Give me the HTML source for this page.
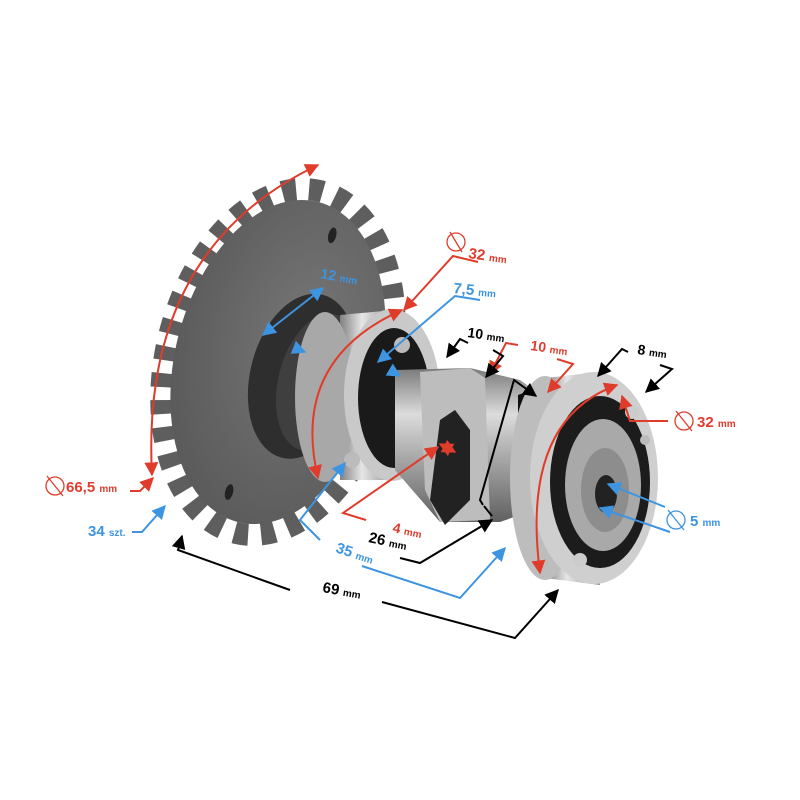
<!DOCTYPE html>
<html><head><meta charset="utf-8"><style>
html,body{margin:0;padding:0;background:#fff;}
svg{display:block;font-family:"Liberation Sans",Arial,sans-serif;font-weight:bold;}
</style></head><body>
<svg width="800" height="800" viewBox="0 0 800 800" xmlns="http://www.w3.org/2000/svg">
<defs>
<marker id="ar" viewBox="0 0 10 10" refX="9" refY="5" markerWidth="7" markerHeight="7" orient="auto-start-reverse"><path d="M0,0L10,5L0,10z" fill="#e03c2c"/></marker>
<marker id="ab" viewBox="0 0 10 10" refX="9" refY="5" markerWidth="7" markerHeight="7" orient="auto-start-reverse"><path d="M0,0L10,5L0,10z" fill="#3d94e0"/></marker>
<marker id="ak" viewBox="0 0 10 10" refX="9" refY="5" markerWidth="7" markerHeight="7" orient="auto-start-reverse"><path d="M0,0L10,5L0,10z" fill="#000"/></marker>
<linearGradient id="met" x1="0" y1="0" x2="0" y2="1"><stop offset="0" stop-color="#7a7a7a"/><stop offset="0.3" stop-color="#dcdcdc"/><stop offset="0.6" stop-color="#a5a5a5"/><stop offset="1" stop-color="#606060"/></linearGradient>
<linearGradient id="met2" x1="0" y1="0" x2="1" y2="0"><stop offset="0" stop-color="#808080"/><stop offset="0.4" stop-color="#e6e6e6"/><stop offset="1" stop-color="#8a8a8a"/></linearGradient>
<radialGradient id="spr" cx="0.6" cy="0.4" r="0.7"><stop offset="0" stop-color="#767676"/><stop offset="1" stop-color="#585858"/></radialGradient>
</defs>

<!-- sprocket -->
<g transform="rotate(14 278 362)">
<ellipse cx="278" cy="362" rx="112" ry="176" fill="none" stroke="#5e5e5e" stroke-width="22" stroke-dasharray="14 13"/>
<ellipse cx="278" cy="362" rx="103" ry="165" fill="url(#spr)"/>
<ellipse cx="305" cy="370" rx="52" ry="84" fill="#2e2e2e"/>
<ellipse cx="322" cy="372" rx="40" ry="70" fill="#3f3f3f"/>
<ellipse cx="300" cy="226" rx="4" ry="8" fill="#222"/>
<ellipse cx="262" cy="500" rx="4" ry="8" fill="#222"/>
</g>

<!-- left bearing -->
<path d="M340,315 L395,310 L395,480 L340,480 Z" fill="url(#met2)"/>
<ellipse cx="325" cy="397" rx="30" ry="85" fill="#a8a8a8"/>
<ellipse cx="392" cy="395" rx="48" ry="86" fill="#c9c9c9"/>
<ellipse cx="394" cy="398" rx="36" ry="70" fill="#1a1a1a"/>
<circle cx="402" cy="345" r="8" fill="#bbb"/><circle cx="352" cy="460" r="8" fill="#bbb"/>

<!-- shaft / cam -->
<path d="M395,370 L470,368 L520,380 L548,400 L548,505 L500,522 L440,522 L395,470 Z" fill="url(#met)"/>
<path d="M420,372 L470,368 L485,378 L490,520 L440,522 L425,490 Z" fill="#bdbdbd"/>
<path d="M440,420 L455,410 L470,430 L470,500 L445,525 L430,500 Z" fill="#222"/>
<path d="M518,395 L545,385 L560,395 L560,520 L535,525 L518,510 Z" fill="#111"/>

<!-- right bearing -->
<path d="M545,378 L600,372 L600,585 L545,578 Z" fill="url(#met2)"/>
<ellipse cx="545" cy="478" rx="35" ry="102" fill="#bdbdbd"/>
<ellipse cx="594" cy="478" rx="64" ry="106" fill="#cfcfcf"/>
<ellipse cx="600" cy="482" rx="50" ry="86" fill="#1c1c1c"/>
<ellipse cx="603" cy="485" rx="38" ry="66" fill="#a9a9a9"/>
<ellipse cx="605" cy="490" rx="24" ry="42" fill="#8d8d8d"/>
<ellipse cx="606" cy="494" rx="11" ry="19" fill="#222"/>
<circle cx="632" cy="412" r="7" fill="#ccc"/><circle cx="580" cy="560" r="7" fill="#ccc"/><circle cx="645" cy="440" r="5" fill="#bbb"/>

<!-- RED annotations -->
<g stroke="#e03c2c" stroke-width="2" fill="none">
<path d="M152,475 Q140,250 318,165" marker-start="url(#ar)" marker-end="url(#ar)"/>
<path d="M130,491 L140,491 L153,478" marker-end="url(#ar)"/>
<path d="M318,478 Q290,360 402,310" marker-start="url(#ar)" marker-end="url(#ar)"/>
<path d="M478,262 L453,256 L404,310" marker-end="url(#ar)"/>
<path d="M540,573 Q520,420 617,385" marker-start="url(#ar)" marker-end="url(#ar)"/>
<path d="M668,421 L630,421 L622,396" marker-end="url(#ar)"/>
<path d="M366,520 L343,513 L438,447" marker-end="url(#ar)"/>
<path d="M440,444 L455,452" marker-start="url(#ar)" marker-end="url(#ar)"/>
<path d="M518,345 L506,343 L490,374" marker-end="url(#ar)"/>
<path d="M557,359 L573,364 L548,392" marker-end="url(#ar)"/>
</g>
<g stroke="#e03c2c" stroke-width="1.3" fill="none">
<circle cx="456" cy="242" r="9"/><path d="M450,232 L462,252"/>
<circle cx="55" cy="486" r="9"/><path d="M47,476 L63,496"/>
<circle cx="684" cy="421" r="9"/><path d="M676,411 L692,431"/>
</g>
<g fill="#e03c2c">
<text x="468" y="258" font-size="15" transform="rotate(8 468 258)">32 <tspan font-size="10">mm</tspan></text>
<text x="66" y="492" font-size="15">66,5 <tspan font-size="10">mm</tspan></text>
<text x="697" y="427" font-size="15">32 <tspan font-size="10">mm</tspan></text>
<text x="392" y="532" font-size="14" transform="rotate(12 392 532)">4 <tspan font-size="10">mm</tspan></text>
<text x="530" y="350" font-size="14" transform="rotate(8 530 350)">10 <tspan font-size="10">mm</tspan></text>
</g>

<!-- BLUE annotations -->
<g stroke="#3d94e0" stroke-width="2" fill="none">
<path d="M132,532 L142,532 L165,506" marker-end="url(#ab)"/>
<path d="M323,288 L263,335" marker-start="url(#ab)" marker-end="url(#ab)"/>
<path d="M295,348 L305,352" marker-end="url(#ab)"/>
<path d="M390,370 L400,376" marker-end="url(#ab)"/>
<path d="M480,300 L455,296 L378,362" marker-end="url(#ab)"/>
<path d="M320,540 L300,520 L345,463" marker-end="url(#ab)"/>
<path d="M362,566 L460,598 L505,548" marker-end="url(#ab)"/>
<path d="M665,507 L608,484" marker-end="url(#ab)"/>
<path d="M670,532 L600,508" marker-end="url(#ab)"/>
</g>
<g stroke="#3d94e0" stroke-width="1.3" fill="none">
<circle cx="676" cy="520" r="9"/><path d="M668,510 L684,530"/>
</g>
<g fill="#3d94e0">
<text x="88" y="536" font-size="15">34 <tspan font-size="10">szt.</tspan></text>
<text x="320" y="278" font-size="14" transform="rotate(10 320 278)">12 <tspan font-size="10">mm</tspan></text>
<text x="453" y="293" font-size="15" transform="rotate(6 453 293)">7,5 <tspan font-size="10">mm</tspan></text>
<text x="335" y="552" font-size="15" transform="rotate(18 335 552)">35 <tspan font-size="10">mm</tspan></text>
<text x="690" y="526" font-size="15">5 <tspan font-size="10">mm</tspan></text>
</g>

<!-- BLACK annotations -->
<g stroke="#000" stroke-width="2" fill="none">
<path d="M290,590 L178,550 L182,536" marker-end="url(#ak)"/>
<path d="M382,602 L515,638 L558,590" marker-end="url(#ak)"/>
<path d="M400,558 L420,563 L492,520" marker-end="url(#ak)"/>
<path d="M483,505 L480,500 L514,380 L536,396" marker-end="url(#ak)"/>
<path d="M484,506 L492,516"/>
<path d="M468,343 L460,339 L447,357" marker-end="url(#ak)"/>
<path d="M493,350 L503,356 L486,377" marker-end="url(#ak)"/>
<path d="M628,352 L622,349 L598,376" marker-end="url(#ak)"/>
<path d="M660,365 L672,369 L646,392" marker-end="url(#ak)"/>
</g>
<g fill="#000">
<text x="467" y="337" font-size="14" transform="rotate(8 467 337)">10 <tspan font-size="10">mm</tspan></text>
<text x="637" y="354" font-size="14" transform="rotate(8 637 354)">8 <tspan font-size="10">mm</tspan></text>
<text x="368" y="542" font-size="15" transform="rotate(12 368 542)">26 <tspan font-size="10">mm</tspan></text>
<text x="322" y="592" font-size="15" transform="rotate(10 322 592)">69 <tspan font-size="10">mm</tspan></text>
</g>
</svg>
</body></html>
